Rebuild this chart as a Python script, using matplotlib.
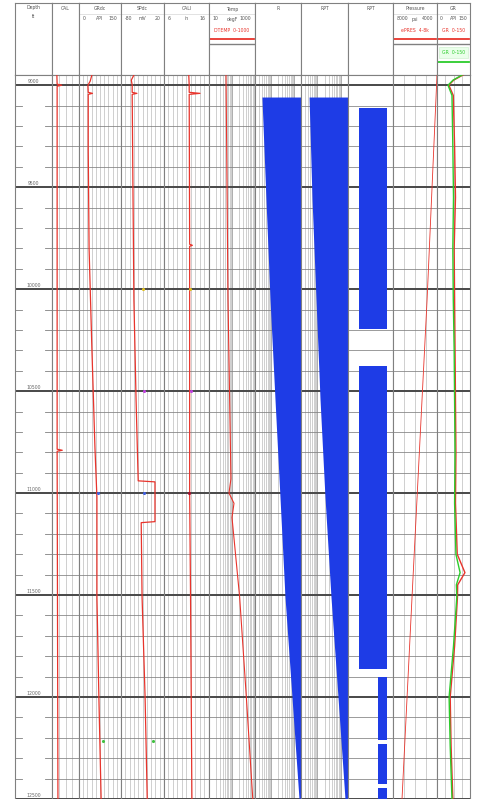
import numpy as np
import matplotlib.pyplot as plt

W, H = 479, 799
edges = [15, 52, 79, 121, 164, 209, 255, 301, 348, 393, 437, 470]
hdr_top, log_top = 3, 75
top_depth, base_depth = 8950, 12500

# ---- curve data (depth ft, value in track units) ----
cal_depth = [8950, 8995, 9000, 9005, 9040, 10780, 10785, 10790, 10795, 12500]
cal = [7.8, 7.9, 9.6, 7.9, 7.9, 7.9, 7.9, 9.8, 7.9, 8.2]

gr_depth = [8950, 8980, 9000, 9035, 9040, 9045, 9320, 9800, 10290, 10780, 11020, 11510, 12000, 12500]
gr = [46, 40, 32, 33, 48, 33, 33, 36, 46, 57, 64, 64, 71, 79]

sp_depth = [8950, 8975, 9000, 9035, 9040, 9045, 9560, 10050, 10540, 10940, 10945, 11140, 11145, 11510, 12000, 12500]
sp = [-50, -56, -54, -54, -43, -54, -52, -50, -45, -40, -1, -1, -33, -31, -24, -19]

cali_depth = [8950, 9000, 9035, 9040, 9045, 9780, 9785, 9790, 10998, 11510, 12500]
cali = [11.5, 11.6, 11.6, 14.0, 11.6, 11.7, 12.3, 11.7, 11.7, 11.9, 12.2]

temp_depth = [8950, 10050, 10930, 11000, 11050, 11120, 11510, 12000, 12500]
temp = [55, 67, 90, 74, 122, 100, 215, 420, 800]

r_depth = [9058, 9560, 10050, 10540, 11020, 11510, 12000, 12500]
r = [0.40, 0.60, 0.90, 1.48, 2.44, 4.03, 8.1, 16.4]

rpt_depth = [9058, 9560, 10050, 10540, 11020, 11510, 12000, 12500]
rpt = [0.44, 0.59, 0.87, 1.29, 2.10, 3.78, 7.5, 14.9]

rpt2_top = [9112, 10379, 11900, 12231, 12445]
rpt2_base = [10194, 11861, 12211, 12426, 12500]
rpt2_left = [24, 24, 67, 67, 67]
rpt2_right = [87, 87, 87, 87, 87]

pres_depth = [8950, 10050, 11510, 12500]
pres = [4000, 4900, 6270, 7180]

gr2_depth = [8950, 8975, 9000, 9050, 9300, 9550, 9800, 10050, 10300, 10550, 10800,
             11050, 11300, 11390, 11450, 11510, 11750, 12000, 12240, 12500]
gr2_green = [114, 73, 50, 68, 72, 75, 72, 74, 78, 80, 82, 80, 86, 105, 88, 90, 75, 55, 60, 68]
gr2_red = [118, 76, 54, 74, 80, 84, 78, 80, 82, 84, 86, 84, 92, 127, 94, 93, 80, 60, 64, 72]

depth_labels = list(range(9000, 12501, 500))

# marker points (track index, depth, value, colour)
mk_track = [3, 4, 3, 4, 2, 3, 4, 2, 3]
mk_depth = [10000, 10000, 10500, 10500, 11000, 11000, 11000, 12215, 12215]
mk_value = [-28, 11.8, -26, 11.9, 67, -26, 11.6, 86, -6]
mk_color = ['#e0c020', '#e0c020', '#c040e0', '#c040e0', '#4060e0', '#4060e0', '#a01030', '#40c040', '#40c040']

# ---- track definitions ----
tracks = [
    dict(title='Depth', unit='ft', lo=None, hi=None, xlim=(0, 1), log=False, ndiv=0),
    dict(title='CAL', unit='', lo='', hi='', xlim=(6, 16), log=False, ndiv=4),
    dict(title='GRdc', unit='API', lo='0', hi='150', xlim=(0, 150), log=False, ndiv=10),
    dict(title='SPdc', unit='mV', lo='-80', hi='20', xlim=(-80, 20), log=False, ndiv=10),
    dict(title='CALI', unit='in', lo='6', hi='16', xlim=(6, 16), log=False, ndiv=10),
    dict(title='Temp', unit='degF', lo='10', hi='1000', xlim=(10, 1000), log=True, ndiv=0),
    dict(title='R', unit='', lo='', hi='', xlim=(0.2, 20), log=True, ndiv=0),
    dict(title='RPT', unit='', lo='', hi='', xlim=(0.2, 20), log=True, ndiv=0),
    dict(title='RPT', unit='', lo='', hi='', xlim=(0, 100), log=False, ndiv=0),
    dict(title='Pressure', unit='psi', lo='8000', hi='4000', xlim=(8000, 4000), log=False, ndiv=4),
    dict(title='GR', unit='API', lo='0', hi='150', xlim=(0, 150), log=False, ndiv=4),
]

RED = '#e8342c'
GREEN = '#2ccc2c'
BLUE = '#1e3ce6'
GRID = '#b4b4b4'
MID = '#808080'
DARK = '#484848'

fig = plt.figure(figsize=(W / 100, H / 100), dpi=100)


def add_ax(i, y0, y1):
    x0, x1 = edges[i], edges[i + 1]
    return fig.add_axes([x0 / W, 1 - y1 / H, (x1 - x0) / W, (y1 - y0) / H])


def hy(y):
    return 1 - (y - hdr_top) / (log_top - hdr_top)


fs = 3.3
axes = []
for i, t in enumerate(tracks):
    # header
    hx = add_ax(i, hdr_top, log_top)
    hx.set_xlim(0, 1)
    hx.set_ylim(0, 1)
    hx.set_xticks([])
    hx.set_yticks([])
    for s in hx.spines.values():
        s.set_color(MID)
        s.set_linewidth(0.8)
    if i == 0:
        hx.text(0.5, hy(8), t['title'], fontsize=fs, ha='center', va='center', color='#555')
        hx.text(0.5, hy(16), t['unit'], fontsize=fs, ha='center', va='center', color='#555')
    else:
        hx.text(0.5, hy(9), t['title'], fontsize=fs, ha='center', va='center', color='#555')
        if t['lo'] or t['unit']:
            hx.text(0.08, hy(19), t['lo'], fontsize=fs, ha='left', va='center', color='#555')
            hx.text(0.5, hy(19), t['unit'], fontsize=fs, ha='center', va='center', color='#555')
            hx.text(0.92, hy(19), t['hi'], fontsize=fs, ha='right', va='center', color='#555')
            hx.plot([0, 1], [hy(14), hy(14)], color='#cccccc', lw=0.4)
    if i in (5, 9, 10):
        lbl = {5: 'DTEMP  0-1000', 9: 'ePRES  4-8k', 10: 'GR  0-150'}[i]
        hx.text(0.5, hy(30), lbl, fontsize=fs, ha='center', va='center', color=RED)
        hx.plot([0.02, 0.98], [hy(39), hy(39)], color=RED, lw=1.3)
        hx.plot([0, 1], [hy(44), hy(44)], color=MID, lw=1.0)
    if i == 10:
        hx.add_patch(plt.Rectangle((0.05, hy(58)), 0.9, hy(47) - hy(58), facecolor='#eaffea',
                                   edgecolor='#c8eec8', lw=0.4))
        hx.text(0.5, hy(52), 'GR  0-150', fontsize=fs, ha='center', va='center', color=GREEN)
        hx.plot([0.02, 0.98], [hy(62), hy(62)], color=GREEN, lw=1.3)

    # log area
    ax = add_ax(i, log_top, H)
    if t['log']:
        ax.set_xscale('log')
    ax.set_xlim(*t['xlim'])
    ax.set_ylim(base_depth, top_depth)
    ax.set_xticks([])
    ax.set_yticks([])
    ax.minorticks_off()
    for s in ax.spines.values():
        s.set_color(MID)
        s.set_linewidth(0.8)
    lo, hi = t['xlim']
    if t['log']:
        dec = np.arange(np.floor(np.log10(min(lo, hi))), np.ceil(np.log10(max(lo, hi))))
        for d in dec:
            for m in range(1, 10):
                v = m * 10 ** d
                if min(lo, hi) < v < max(lo, hi):
                    ax.axvline(v, color=GRID if m > 1 else MID, lw=0.45, zorder=0)
    elif t['ndiv']:
        for v in np.linspace(lo, hi, t['ndiv'] + 1)[1:-1]:
            ax.axvline(v, color=GRID, lw=0.45, zorder=0)
    for d in range(9000, 12501, 100):
        if d % 500 == 0:
            ax.axhline(d, color=DARK, lw=1.4, zorder=1)
        elif i == 0:
            ax.plot([0, 0.18], [d, d], color=MID, lw=0.6)
            ax.plot([0.82, 1], [d, d], color=MID, lw=0.6)
        else:
            ax.axhline(d, color=MID, lw=0.55, zorder=1)
    axes.append(ax)

# depth labels
for d in depth_labels:
    axes[0].text(0.5, d - 6, str(d), fontsize=fs, ha='center', va='bottom', color='#666')

# curves
axes[1].plot(cal, cal_depth, color=RED, lw=0.9, zorder=3)
axes[2].plot(gr, gr_depth, color=RED, lw=0.9, zorder=3)
axes[3].plot(sp, sp_depth, color=RED, lw=0.9, zorder=3)
axes[4].plot(cali, cali_depth, color=RED, lw=0.9, zorder=3)
axes[5].plot(temp, temp_depth, color=RED, lw=0.8, zorder=3)

axes[6].fill_betweenx(r_depth, r, 20, color=BLUE, lw=0, zorder=2)
axes[7].fill_betweenx(rpt_depth, rpt, 20, color=BLUE, lw=0, zorder=2)
for tp, bs, l, rr in zip(rpt2_top, rpt2_base, rpt2_left, rpt2_right):
    axes[8].barh((tp + bs) / 2, rr - l, left=l, height=bs - tp, color=BLUE, lw=0, zorder=2)

axes[9].plot(pres, pres_depth, color=RED, lw=0.6, zorder=3)
axes[10].plot(gr2_red, gr2_depth, color=RED, lw=1.0, zorder=3)
axes[10].plot(gr2_green, gr2_depth, color=GREEN, lw=1.0, zorder=4)

for ti, d, v, c in zip(mk_track, mk_depth, mk_value, mk_color):
    axes[ti].scatter([v], [d], s=5, color=c, zorder=5, lw=0)

fig.savefig('out.png', dpi=100)
